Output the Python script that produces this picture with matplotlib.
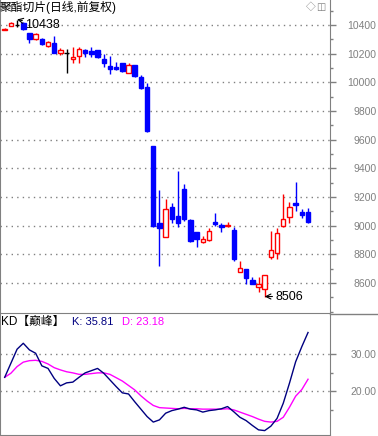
import matplotlib
matplotlib.use("Agg")
import matplotlib.pyplot as plt
from matplotlib.lines import Line2D
from matplotlib.ticker import MultipleLocator, FixedLocator

plt.rcParams['font.family'] = ['Liberation Sans', 'Noto Sans CJK SC', 'DejaVu Sans']

# ====== DATA ======
title = "聚酯切片(日线,前复权)"
opens = [10365, 10393, 10400, 10412, 10342, 10300, 10300, 10256, 10272, 10202,
         10202, 10163, 10183, 10226, 10219, 10226, 10163, 10114, 10107, 10133,
         10063, 10121, 10039, 9970, 9556, 9016, 8919, 9128, 9067, 9256,
         9040, 8956, 8888, 8900, 9028, 9002, 8995, 8970, 8675, 8698,
         8621, 8570, 8560, 8783, 8807, 9000, 9058, 9160, 9095, 9095]
highs = [10378, 10424, 10438, 10420, 10345, 10346, 10309, 10290, 10325, 10236,
         10232, 10249, 10249, 10230, 10244, 10226, 10196, 10184, 10140, 10133,
         10133, 10121, 10051, 9997, 9556, 9249, 9186, 9158, 9381, 9291,
         9044, 8956, 8928, 8986, 9090, 9016, 9028, 8989, 8756, 8698,
         8644, 8644, 8656, 8965, 8986, 9221, 9167, 9305, 9116, 9121]
lows = [10362, 10390, 10388, 10365, 10274, 10295, 10260, 10244, 10202, 10191,
        10063, 10133, 10137, 10179, 10179, 10172, 10109, 10060, 10086, 10074,
        10063, 10039, 9953, 9651, 8993, 8721, 8919, 9021, 8993, 9035,
        8884, 8849, 8881, 8895, 8998, 8958, 8993, 8756, 8675, 8591,
        8591, 8539, 8506, 8767, 8765, 8993, 9021, 9104, 9053, 9016]
closes = [10372, 10416, 10400, 10370, 10305, 10337, 10265, 10279, 10207, 10226,
          10202, 10177, 10230, 10207, 10200, 10179, 10137, 10091, 10093, 10081,
          10119, 10044, 9963, 9660, 9000, 8986, 9114, 9049, 9021, 9046,
          8893, 8909, 8909, 8963, 9014, 8993, 9005, 8770, 8705, 8633,
          8595, 8593, 8656, 8830, 8947, 9044, 9128, 9146, 9077, 9026]

k_vals = [23.7, 27.5, 31.3, 32.9, 31.1, 30.2, 26.8, 26.1, 23.4, 21.4,
          22.2, 22.4, 23.7, 24.9, 25.5, 26.1, 24.8, 23.0, 21.2, 19.5,
          19.2, 17.1, 15.1, 13.1, 11.6, 12.2, 14.0, 14.7, 15.1, 15.6,
          15.1, 14.9, 14.3, 14.7, 14.9, 15.2, 15.8, 14.4, 12.9, 12.0,
          10.7, 9.5, 9.3, 10.5, 12.6, 16.7, 22.1, 27.9, 32.0, 35.81]
d_vals = [23.7, 24.8, 26.6, 27.8, 28.2, 28.3, 28.0, 27.3, 26.3, 25.7,
          25.2, 24.9, 24.5, 24.5, 24.7, 24.9, 24.9, 24.5, 23.6, 22.7,
          21.5, 20.3, 18.7, 17.3, 16.1, 15.5, 15.4, 15.3, 15.2, 15.3,
          15.2, 15.2, 15.1, 15.1, 15.1, 15.1, 15.2, 14.9, 14.3, 13.7,
          13.1, 12.4, 11.8, 11.6, 11.8, 12.9, 15.6, 18.6, 20.4, 23.18]

price_ticks = [8600, 8800, 9000, 9200, 9400, 9600, 9800, 10000, 10200, 10400]
kd_ticks = [20, 30]
# ==================

W, H = 378, 436
GRAY = '#808080'
DOTS = (0, (1, 3))


def px_rect(x0, y0, x1, y1):
    # pixel box (top-left origin) -> figure fraction
    return [x0 / W, 1 - y1 / H, (x1 - x0) / W, (y1 - y0) / H]


fig = plt.figure(figsize=(W / 100, H / 100), dpi=100)
ax = fig.add_axes(px_rect(0, 0, 330, 312))
ax2 = fig.add_axes(px_rect(0, 313, 330, 435))

xs = list(range(len(opens)))

# ---- candles ----
up = [i for i in xs if closes[i] > opens[i]]
dn = [i for i in xs if closes[i] < opens[i]]
eq = [i for i in xs if closes[i] == opens[i]]

ax.vlines(up, [lows[i] for i in up], [highs[i] for i in up], colors='red', lw=1, zorder=2)
ax.vlines(dn, [lows[i] for i in dn], [highs[i] for i in dn], colors='blue', lw=1, zorder=2)
ax.vlines(eq, [lows[i] for i in eq], [highs[i] for i in eq], colors='black', lw=1, zorder=2)

ax.bar(up, [closes[i] - opens[i] for i in up], bottom=[opens[i] for i in up], width=0.72,
       facecolor='white', edgecolor='red', lw=1, zorder=3)
ax.bar(dn, [opens[i] - closes[i] for i in dn], bottom=[closes[i] for i in dn], width=0.72,
       facecolor='blue', edgecolor='blue', lw=1, zorder=3)
ax.hlines([opens[i] for i in eq], [i - 0.36 for i in eq], [i + 0.36 for i in eq],
          colors='black', lw=1, zorder=3)

# high / low markers
imax = highs.index(max(highs))
imin = lows.index(min(lows))
ax.annotate(str(max(highs)), xy=(imax, max(highs)), xytext=(imax + 1.3, 10400),
            va='center', ha='left', fontsize=9,
            arrowprops=dict(arrowstyle='->', color='black', lw=0.8, shrinkA=0, shrinkB=0))
ax.annotate(str(min(lows)), xy=(imin, min(lows)), xytext=(imin + 1.7, min(lows)),
            va='center', ha='left', fontsize=9,
            arrowprops=dict(arrowstyle='->', color='black', lw=0.8, shrinkA=0, shrinkB=0))

ax.set_xlim(-0.76, 52.55)
ax.set_ylim(8398, 10574)
ax.yaxis.tick_right()
ax.yaxis.set_major_locator(FixedLocator(price_ticks))
ax.yaxis.set_minor_locator(MultipleLocator(100))
ax.set_xticks([])
ax.tick_params(axis='y', which='major', length=4, width=1, color=GRAY, labelcolor=GRAY,
               labelsize=7.5, pad=29.5)
ax.tick_params(axis='y', which='minor', length=2.5, width=1, color=GRAY)
for lab in ax.get_yticklabels():
    lab.set_horizontalalignment('right')
ax.grid(axis='y', which='major', color=GRAY, linestyle=DOTS, lw=1)
for s in ['top', 'bottom']:
    ax.spines[s].set_visible(False)
ax.spines['left'].set_color(GRAY)
ax.spines['right'].set_color(GRAY)

# ---- KD panel ----
ax2.plot(xs, d_vals, color='magenta', lw=1)
ax2.plot(xs, k_vals, color='#000080', lw=1)
ax2.set_xlim(-0.76, 52.55)
ax2.set_ylim(8.11, 41.08)
ax2.yaxis.tick_right()
ax2.yaxis.set_major_locator(FixedLocator(kd_ticks))
ax2.yaxis.set_major_formatter(plt.FuncFormatter(lambda v, p: f"{v:.2f}"))
ax2.yaxis.set_minor_locator(FixedLocator([15, 25]))
ax2.set_xticks([])
ax2.tick_params(axis='y', which='major', length=4, width=1, color=GRAY, labelcolor=GRAY,
                labelsize=7.5, pad=29.5)
ax2.tick_params(axis='y', which='minor', length=2.5, width=1, color=GRAY)
for lab in ax2.get_yticklabels():
    lab.set_horizontalalignment('right')
ax2.grid(axis='y', which='major', color=GRAY, linestyle=DOTS, lw=1)
for s in ax2.spines.values():
    s.set_color(GRAY)

# right-side box of KD panel
fig.add_artist(Line2D([330 / W, 1], [1 - 314 / H, 1 - 314 / H], color=GRAY, lw=1))

# ---- texts ----
fig.text(0 / W, 1 - 7 / H, title, fontsize=8.5, va='center', ha='left')
fig.text(306 / W, 1 - 7 / H, "◇", fontsize=7, va='center', ha='left', color=GRAY)
fig.text(316 / W, 1 - 7 / H, "◫", fontsize=7, va='center', ha='left', color=GRAY,
         family=['DejaVu Sans'])
fig.text(1 / W, 1 - 322 / H, "KD【巅峰】", fontsize=8.5, va='center', ha='left')
fig.text(72 / W, 1 - 322 / H, f"K: {k_vals[-1]:.2f}", fontsize=8, va='center', ha='left',
         color='#000080')
fig.text(122 / W, 1 - 322 / H, f"D: {d_vals[-1]:.2f}", fontsize=8, va='center', ha='left',
         color='magenta')

plt.savefig("out.png", dpi=100)
